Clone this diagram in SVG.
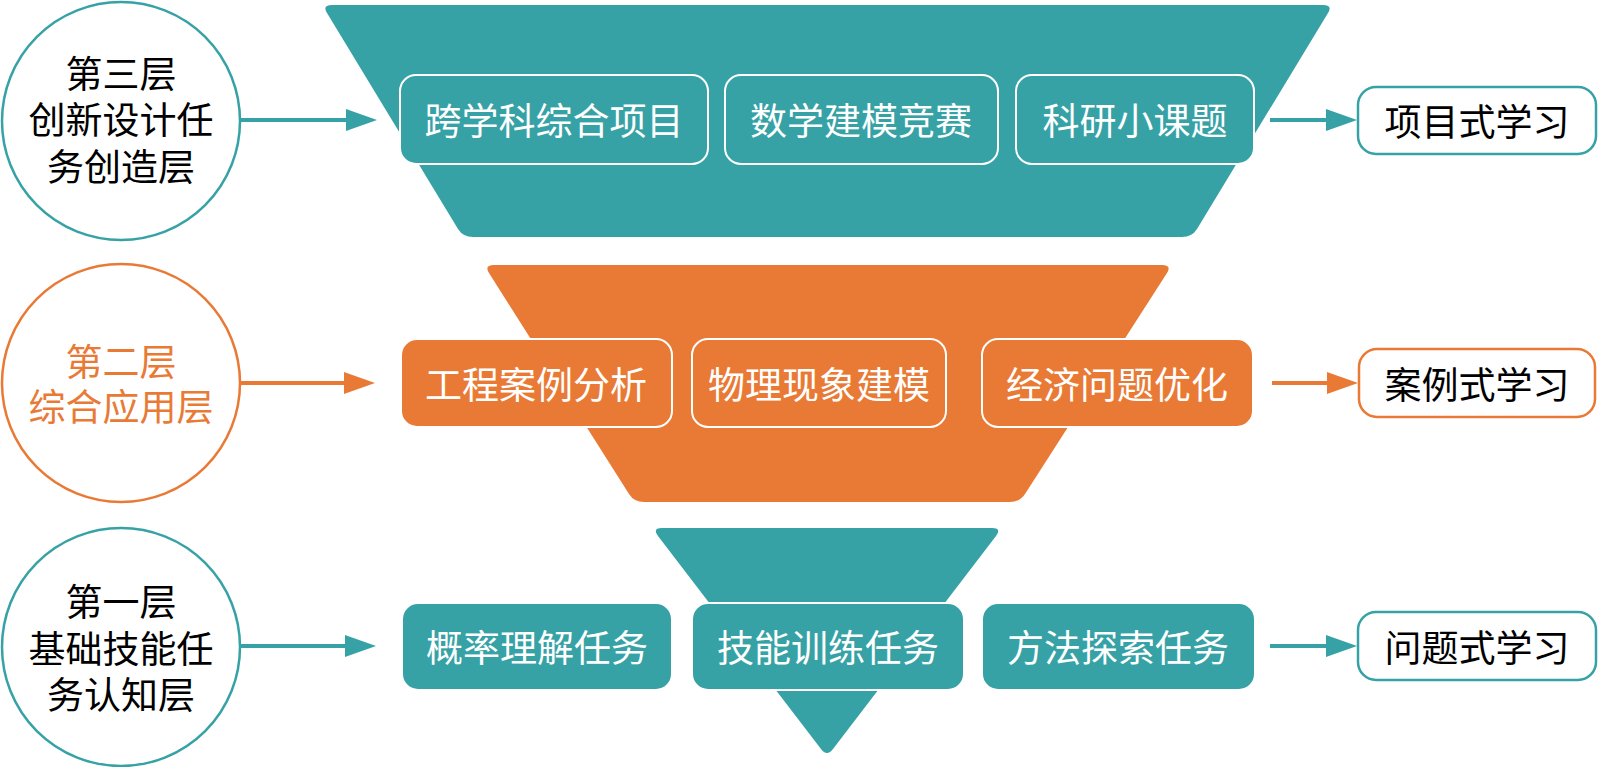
<svg xmlns="http://www.w3.org/2000/svg" width="1598" height="767" viewBox="0 0 1598 767">
<style>
.t{font-family:"Noto Sans CJK SC","Noto Sans",sans-serif;font-size:37px;text-anchor:middle;dominant-baseline:central}
.c{font-family:"Liberation Sans","Noto Sans CJK SC",sans-serif;font-size:37px;text-anchor:middle;dominant-baseline:central}
.w{fill:#ffffff}
.k{fill:#000000}
.o{fill:#E97A35}
.teal{fill:#37A2A6}
.org{fill:#E97A35}
.box{stroke:#ffffff;stroke-width:2}
.circT{fill:#ffffff;stroke:#37A2A6;stroke-width:2.5}
.circO{fill:#ffffff;stroke:#E97A35;stroke-width:2.5}
.outT{fill:#ffffff;stroke:#37A2A6;stroke-width:2.5}
.outO{fill:#ffffff;stroke:#E97A35;stroke-width:2.5}
.lnT{stroke:#37A2A6;stroke-width:4;fill:none}
.lnO{stroke:#E97A35;stroke-width:4;fill:none}
</style>
<defs>
<marker id="aT" markerUnits="userSpaceOnUse" markerWidth="32" markerHeight="24" refX="4" refY="11" orient="auto"><path d="M0,0 L31,11 L0,22 Z" fill="#37A2A6"/></marker>
<marker id="aO" markerUnits="userSpaceOnUse" markerWidth="32" markerHeight="24" refX="4" refY="11" orient="auto"><path d="M0,0 L31,11 L0,22 Z" fill="#E97A35"/></marker>
</defs>

<g id="funnel-top">
<path class="teal" d="M332,5 L1323,5 Q1333,5 1328,13 L1197,229 Q1192,237 1182,237 L473,237 Q463,237 458,229 L327,13 Q322,5 332,5 Z"/>
</g>
<g id="funnel-mid">
<path class="org" d="M494,265 L1162,265 Q1172,265 1167,273 L1025,494 Q1020,502 1010,502 L644,502 Q634,502 629,494 L489,273 Q484,265 494,265 Z"/>
</g>
<g id="funnel-bottom">
<path class="teal" d="M662,528 L992,528 Q1002,528 996,536 L833,749 Q827,757 821,749 L658,536 Q652,528 662,528 Z"/>
</g>

<g id="layer3">
<circle class="circT" cx="121" cy="121" r="119"/>
<text class="c k"><tspan x="121" y="75">第三层</tspan><tspan x="121" y="121">创新设计任</tspan><tspan x="121" y="168">务创造层</tspan></text>
</g>
<g id="layer2">
<circle class="circO" cx="121" cy="383" r="119"/>
<text class="c o"><tspan x="121" y="363">第二层</tspan><tspan x="121" y="408">综合应用层</tspan></text>
</g>
<g id="layer1">
<circle class="circT" cx="121" cy="647" r="119"/>
<text class="c k"><tspan x="121" y="603">第一层</tspan><tspan x="121" y="650">基础技能任</tspan><tspan x="121" y="696">务认知层</tspan></text>
</g>

<g id="t3a"><rect class="teal box" x="400" y="75" width="308" height="89" rx="16"/><text class="t w" x="554" y="119">跨学科综合项目</text></g>
<g id="t3b"><rect class="teal box" x="725" y="75" width="273" height="89" rx="16"/><text class="t w" x="861" y="119">数学建模竞赛</text></g>
<g id="t3c"><rect class="teal box" x="1016" y="75" width="238" height="89" rx="16"/><text class="t w" x="1135" y="119">科研小课题</text></g>

<g id="t2a"><rect class="org box" x="401" y="339" width="271" height="88" rx="16"/><text class="t w" x="536" y="383">工程案例分析</text></g>
<g id="t2b"><rect class="org box" x="692" y="339" width="254" height="88" rx="16"/><text class="t w" x="819" y="383">物理现象建模</text></g>
<g id="t2c"><rect class="org box" x="982" y="339" width="271" height="88" rx="16"/><text class="t w" x="1117" y="383">经济问题优化</text></g>

<g id="t1a"><rect class="teal box" x="402" y="603" width="270" height="87" rx="16"/><text class="t w" x="537" y="646">概率理解任务</text></g>
<g id="t1b"><rect class="teal box" x="692" y="603" width="272" height="87" rx="16"/><text class="t w" x="828" y="646">技能训练任务</text></g>
<g id="t1c"><rect class="teal box" x="982" y="603" width="273" height="87" rx="16"/><text class="t w" x="1118" y="646">方法探索任务</text></g>

<g id="out3"><rect class="outT" x="1358" y="87" width="238" height="67" rx="18"/><text class="t k" x="1477" y="120">项目式学习</text></g>
<g id="out2"><rect class="outO" x="1359" y="349" width="236" height="68" rx="18"/><text class="t k" x="1477" y="383">案例式学习</text></g>
<g id="out1"><rect class="outT" x="1358" y="612" width="238" height="68" rx="18"/><text class="t k" x="1477" y="646">问题式学习</text></g>

<g id="connectors">
<line class="lnT" x1="241" y1="120" x2="350" y2="120" marker-end="url(#aT)"/>
<line class="lnO" x1="241" y1="383" x2="348" y2="383" marker-end="url(#aO)"/>
<line class="lnT" x1="241" y1="646" x2="349" y2="646" marker-end="url(#aT)"/>
<line class="lnT" x1="1270" y1="120" x2="1330" y2="120" marker-end="url(#aT)"/>
<line class="lnO" x1="1272" y1="383" x2="1331" y2="383" marker-end="url(#aO)"/>
<line class="lnT" x1="1270" y1="646" x2="1330" y2="646" marker-end="url(#aT)"/>
</g>
</svg>
